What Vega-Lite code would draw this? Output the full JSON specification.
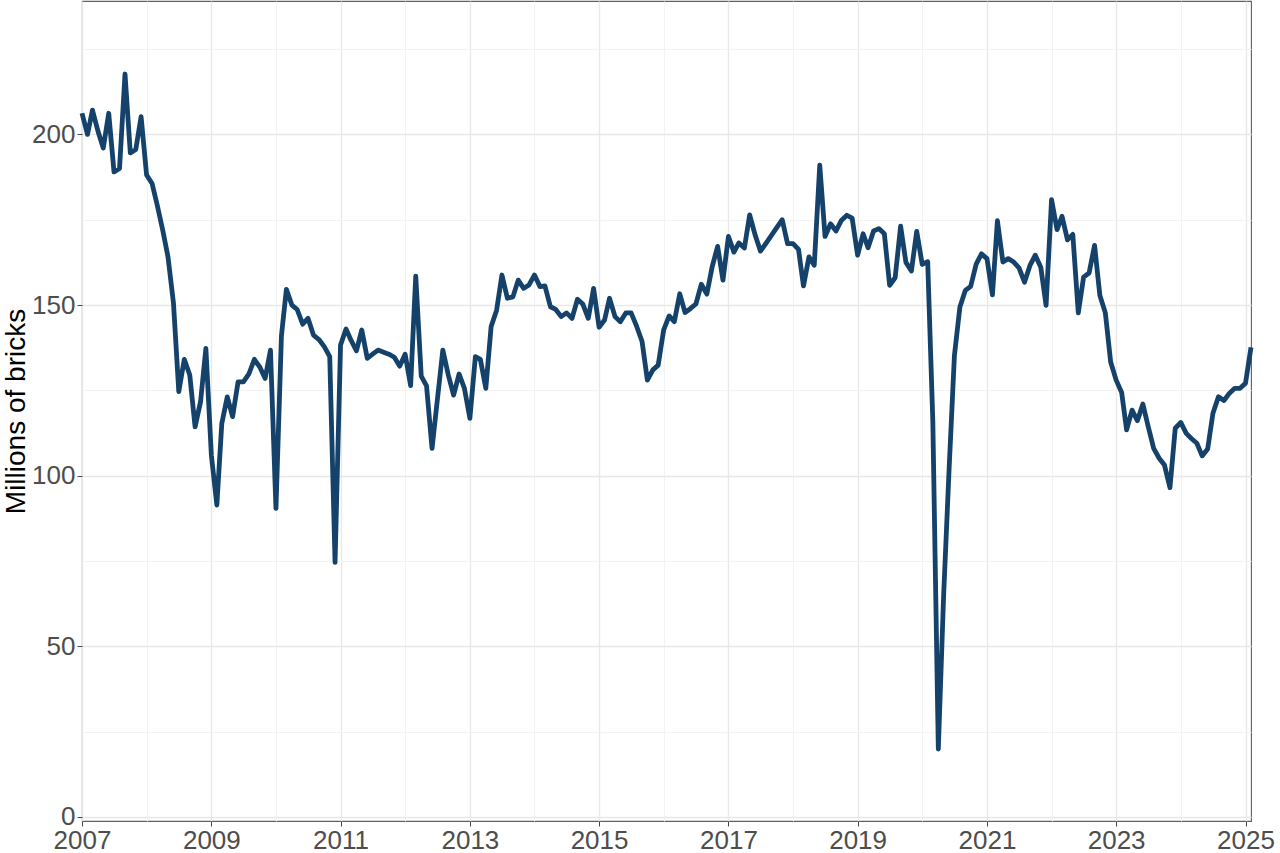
{
  "$schema": "https://vega.github.io/schema/vega-lite/v6.json",
  "width": 1169,
  "height": 820,
  "autosize": {"type": "none"},
  "padding": {"left": 82, "top": 1, "right": 29, "bottom": 32},
  "background": "white",
  "config": {
    "view": {"stroke": "#5f5f5f", "strokeWidth": 1.1},
    "axis": {"labelFont": "Liberation Sans", "titleFont": "Liberation Sans"}
  },
  "data": {
    "values": [
      {"d": "2007-01-01", "v": 206.2}, {"d": "2007-02-01", "v": 200}, {"d": "2007-03-01", "v": 207.1}, {"d": "2007-04-01", "v": 201},
      {"d": "2007-05-01", "v": 196}, {"d": "2007-06-01", "v": 206.2}, {"d": "2007-07-01", "v": 189}, {"d": "2007-08-01", "v": 190},
      {"d": "2007-09-01", "v": 217.7}, {"d": "2007-10-01", "v": 194.6}, {"d": "2007-11-01", "v": 195.6}, {"d": "2007-12-01", "v": 205.2},
      {"d": "2008-01-01", "v": 188.1}, {"d": "2008-02-01", "v": 185.6}, {"d": "2008-03-01", "v": 179.3}, {"d": "2008-04-01", "v": 172},
      {"d": "2008-05-01", "v": 164.1}, {"d": "2008-06-01", "v": 150.5}, {"d": "2008-07-01", "v": 124.6}, {"d": "2008-08-01", "v": 134.1},
      {"d": "2008-09-01", "v": 129.5}, {"d": "2008-10-01", "v": 114.3}, {"d": "2008-11-01", "v": 121.7}, {"d": "2008-12-01", "v": 137.3},
      {"d": "2009-01-01", "v": 106}, {"d": "2009-02-01", "v": 91.4}, {"d": "2009-03-01", "v": 115.3}, {"d": "2009-04-01", "v": 123.1},
      {"d": "2009-05-01", "v": 117.3}, {"d": "2009-06-01", "v": 127.5}, {"d": "2009-07-01", "v": 127.5}, {"d": "2009-08-01", "v": 129.8},
      {"d": "2009-09-01", "v": 134.1}, {"d": "2009-10-01", "v": 131.9}, {"d": "2009-11-01", "v": 128.5}, {"d": "2009-12-01", "v": 136.8},
      {"d": "2010-01-01", "v": 90.4}, {"d": "2010-02-01", "v": 141}, {"d": "2010-03-01", "v": 154.6}, {"d": "2010-04-01", "v": 150},
      {"d": "2010-05-01", "v": 148.7}, {"d": "2010-06-01", "v": 144.4}, {"d": "2010-07-01", "v": 146.1}, {"d": "2010-08-01", "v": 141.2},
      {"d": "2010-09-01", "v": 139.9}, {"d": "2010-10-01", "v": 137.8}, {"d": "2010-11-01", "v": 134.9}, {"d": "2010-12-01", "v": 74.6},
      {"d": "2011-01-01", "v": 138.3}, {"d": "2011-02-01", "v": 143}, {"d": "2011-03-01", "v": 139.7}, {"d": "2011-04-01", "v": 136.6},
      {"d": "2011-05-01", "v": 142.7}, {"d": "2011-06-01", "v": 134.4}, {"d": "2011-07-01", "v": 135.6}, {"d": "2011-08-01", "v": 136.8},
      {"d": "2011-09-01", "v": 136.2}, {"d": "2011-10-01", "v": 135.6}, {"d": "2011-11-01", "v": 134.7}, {"d": "2011-12-01", "v": 132.1},
      {"d": "2012-01-01", "v": 135.6}, {"d": "2012-02-01", "v": 126.4}, {"d": "2012-03-01", "v": 158.5}, {"d": "2012-04-01", "v": 129.2},
      {"d": "2012-05-01", "v": 126.3}, {"d": "2012-06-01", "v": 108}, {"d": "2012-07-01", "v": 122.2}, {"d": "2012-08-01", "v": 136.8},
      {"d": "2012-09-01", "v": 129.5}, {"d": "2012-10-01", "v": 123.6}, {"d": "2012-11-01", "v": 129.8}, {"d": "2012-12-01", "v": 125.6},
      {"d": "2013-01-01", "v": 116.8}, {"d": "2013-02-01", "v": 134.9}, {"d": "2013-03-01", "v": 134.1}, {"d": "2013-04-01", "v": 125.6},
      {"d": "2013-05-01", "v": 143.7}, {"d": "2013-06-01", "v": 148.5}, {"d": "2013-07-01", "v": 158.8}, {"d": "2013-08-01", "v": 152},
      {"d": "2013-09-01", "v": 152.4}, {"d": "2013-10-01", "v": 157.3}, {"d": "2013-11-01", "v": 154.9}, {"d": "2013-12-01", "v": 155.9},
      {"d": "2014-01-01", "v": 158.8}, {"d": "2014-02-01", "v": 155.4}, {"d": "2014-03-01", "v": 155.6}, {"d": "2014-04-01", "v": 149.5},
      {"d": "2014-05-01", "v": 148.7}, {"d": "2014-06-01", "v": 146.6}, {"d": "2014-07-01", "v": 147.7}, {"d": "2014-08-01", "v": 146.1},
      {"d": "2014-09-01", "v": 151.7}, {"d": "2014-10-01", "v": 150.3}, {"d": "2014-11-01", "v": 146.1}, {"d": "2014-12-01", "v": 154.9},
      {"d": "2015-01-01", "v": 143.5}, {"d": "2015-02-01", "v": 145.6}, {"d": "2015-03-01", "v": 152}, {"d": "2015-04-01", "v": 146.6},
      {"d": "2015-05-01", "v": 145.1}, {"d": "2015-06-01", "v": 147.7}, {"d": "2015-07-01", "v": 147.7}, {"d": "2015-08-01", "v": 143.8},
      {"d": "2015-09-01", "v": 139.3}, {"d": "2015-10-01", "v": 128}, {"d": "2015-11-01", "v": 131}, {"d": "2015-12-01", "v": 132.4},
      {"d": "2016-01-01", "v": 142.7}, {"d": "2016-02-01", "v": 146.8}, {"d": "2016-03-01", "v": 145.1}, {"d": "2016-04-01", "v": 153.3},
      {"d": "2016-05-01", "v": 147.8}, {"d": "2016-06-01", "v": 149}, {"d": "2016-07-01", "v": 150.3}, {"d": "2016-08-01", "v": 156.1},
      {"d": "2016-09-01", "v": 153.2}, {"d": "2016-10-01", "v": 161.2}, {"d": "2016-11-01", "v": 167.2}, {"d": "2016-12-01", "v": 157.3},
      {"d": "2017-01-01", "v": 170.1}, {"d": "2017-02-01", "v": 165.5}, {"d": "2017-03-01", "v": 168.2}, {"d": "2017-04-01", "v": 166.7},
      {"d": "2017-05-01", "v": 176.4}, {"d": "2017-06-01", "v": 170.5}, {"d": "2017-07-01", "v": 165.8}, {"d": "2017-08-01", "v": 168.1},
      {"d": "2017-09-01", "v": 170.4}, {"d": "2017-10-01", "v": 172.7}, {"d": "2017-11-01", "v": 175}, {"d": "2017-12-01", "v": 168},
      {"d": "2018-01-01", "v": 168}, {"d": "2018-02-01", "v": 166.3}, {"d": "2018-03-01", "v": 155.6}, {"d": "2018-04-01", "v": 164.1},
      {"d": "2018-05-01", "v": 161.7}, {"d": "2018-06-01", "v": 191}, {"d": "2018-07-01", "v": 170.1}, {"d": "2018-08-01", "v": 173.8},
      {"d": "2018-09-01", "v": 171.7}, {"d": "2018-10-01", "v": 174.8}, {"d": "2018-11-01", "v": 176.3}, {"d": "2018-12-01", "v": 175.5},
      {"d": "2019-01-01", "v": 164.6}, {"d": "2019-02-01", "v": 170.9}, {"d": "2019-03-01", "v": 166.8}, {"d": "2019-04-01", "v": 171.7},
      {"d": "2019-05-01", "v": 172.4}, {"d": "2019-06-01", "v": 170.9}, {"d": "2019-07-01", "v": 155.8}, {"d": "2019-08-01", "v": 158},
      {"d": "2019-09-01", "v": 173.1}, {"d": "2019-10-01", "v": 162.5}, {"d": "2019-11-01", "v": 160}, {"d": "2019-12-01", "v": 171.6},
      {"d": "2020-01-01", "v": 161.9}, {"d": "2020-02-01", "v": 162.7}, {"d": "2020-03-01", "v": 116}, {"d": "2020-04-01", "v": 19.9},
      {"d": "2020-05-01", "v": 64.8}, {"d": "2020-06-01", "v": 102}, {"d": "2020-07-01", "v": 135.2}, {"d": "2020-08-01", "v": 149.4},
      {"d": "2020-09-01", "v": 154.3}, {"d": "2020-10-01", "v": 155.5}, {"d": "2020-11-01", "v": 162}, {"d": "2020-12-01", "v": 165},
      {"d": "2021-01-01", "v": 163.6}, {"d": "2021-02-01", "v": 153}, {"d": "2021-03-01", "v": 174.7}, {"d": "2021-04-01", "v": 162.6},
      {"d": "2021-05-01", "v": 163.6}, {"d": "2021-06-01", "v": 162.6}, {"d": "2021-07-01", "v": 160.9}, {"d": "2021-08-01", "v": 156.7},
      {"d": "2021-09-01", "v": 161.6}, {"d": "2021-10-01", "v": 164.6}, {"d": "2021-11-01", "v": 161.1}, {"d": "2021-12-01", "v": 149.9},
      {"d": "2022-01-01", "v": 180.9}, {"d": "2022-02-01", "v": 172.1}, {"d": "2022-03-01", "v": 176}, {"d": "2022-04-01", "v": 169.1},
      {"d": "2022-05-01", "v": 170.7}, {"d": "2022-06-01", "v": 147.7}, {"d": "2022-07-01", "v": 158.2}, {"d": "2022-08-01", "v": 159.4},
      {"d": "2022-09-01", "v": 167.5}, {"d": "2022-10-01", "v": 152.8}, {"d": "2022-11-01", "v": 147.7}, {"d": "2022-12-01", "v": 133.3},
      {"d": "2023-01-01", "v": 128}, {"d": "2023-02-01", "v": 124.4}, {"d": "2023-03-01", "v": 113.4}, {"d": "2023-04-01", "v": 119.2},
      {"d": "2023-05-01", "v": 116.1}, {"d": "2023-06-01", "v": 121}, {"d": "2023-07-01", "v": 114.4}, {"d": "2023-08-01", "v": 108},
      {"d": "2023-09-01", "v": 105.1}, {"d": "2023-10-01", "v": 103.1}, {"d": "2023-11-01", "v": 96.5}, {"d": "2023-12-01", "v": 113.9},
      {"d": "2024-01-01", "v": 115.6}, {"d": "2024-02-01", "v": 112.4}, {"d": "2024-03-01", "v": 110.9}, {"d": "2024-04-01", "v": 109.5},
      {"d": "2024-05-01", "v": 105.8}, {"d": "2024-06-01", "v": 107.8}, {"d": "2024-07-01", "v": 118.3}, {"d": "2024-08-01", "v": 123.1},
      {"d": "2024-09-01", "v": 122}, {"d": "2024-10-01", "v": 124.1}, {"d": "2024-11-01", "v": 125.6}, {"d": "2024-12-01", "v": 125.6},
      {"d": "2025-01-01", "v": 127.1}, {"d": "2025-02-01", "v": 137.6}
    ]
  },
  "mark": {"type": "line", "color": "#14426b", "strokeWidth": 4.8, "strokeJoin": "round"},
  "encoding": {
    "x": {
      "field": "d",
      "type": "temporal",
      "scale": {
        "type": "utc",
        "nice": false,
        "domain": [
          {"year": 2007, "month": 1, "date": 1, "utc": true},
          {"year": 2025, "month": 2, "date": 1, "utc": true}
        ]
      },
      "axis": {
        "title": null,
        "values": [
          {"year": 2007, "utc": true}, {"year": 2008, "utc": true}, {"year": 2009, "utc": true}, {"year": 2010, "utc": true},
          {"year": 2011, "utc": true}, {"year": 2012, "utc": true}, {"year": 2013, "utc": true}, {"year": 2014, "utc": true},
          {"year": 2015, "utc": true}, {"year": 2016, "utc": true}, {"year": 2017, "utc": true}, {"year": 2018, "utc": true},
          {"year": 2019, "utc": true}, {"year": 2020, "utc": true}, {"year": 2021, "utc": true}, {"year": 2022, "utc": true},
          {"year": 2023, "utc": true}, {"year": 2024, "utc": true}, {"year": 2025, "utc": true}
        ],
        "format": "%Y",
        "formatType": "utc",
        "labelExpr": "utcyear(datum.value) % 2 == 1 ? datum.label : ''",
        "labelFontSize": 26,
        "labelColor": "#4d4d4d",
        "labelPadding": 1,
        "labelFlush": false,
        "labelOverlap": false,
        "domain": false,
        "tickSize": 5,
        "tickColor": "#444444",
        "tickOpacity": {"condition": {"test": "utcyear(datum.value) % 2 == 1", "value": 1}, "value": 0},
        "grid": true,
        "gridColor": {"condition": {"test": "utcyear(datum.value) % 2 == 1", "value": "#e8e8e8"}, "value": "#f3f3f3"},
        "gridWidth": {"condition": {"test": "utcyear(datum.value) % 2 == 1", "value": 1.4}, "value": 1}
      }
    },
    "y": {
      "field": "v",
      "type": "quantitative",
      "scale": {"domain": [-1.2, 239.1], "nice": false, "zero": false},
      "axis": {
        "title": "Millions of bricks",
        "titleFontSize": 28,
        "titleFontWeight": "normal",
        "titleColor": "#000000",
        "titleX": -58,
        "titleY": 410,
        "titleAngle": -90,
        "titleAlign": "center",
        "titleBaseline": "alphabetic",
        "values": [0, 25, 50, 75, 100, 125, 150, 175, 200, 225],
        "labelExpr": "datum.value % 50 == 0 ? datum.label : ''",
        "labelFontSize": 26,
        "labelColor": "#4d4d4d",
        "labelPadding": 2,
        "labelFlush": false,
        "labelOverlap": false,
        "domain": false,
        "tickSize": 5,
        "tickColor": "#444444",
        "tickOpacity": {"condition": {"test": "datum.value % 50 == 0", "value": 1}, "value": 0},
        "grid": true,
        "gridColor": {"condition": {"test": "datum.value % 50 == 0", "value": "#e8e8e8"}, "value": "#f3f3f3"},
        "gridWidth": {"condition": {"test": "datum.value % 50 == 0", "value": 1.4}, "value": 1}
      }
    }
  }
}
